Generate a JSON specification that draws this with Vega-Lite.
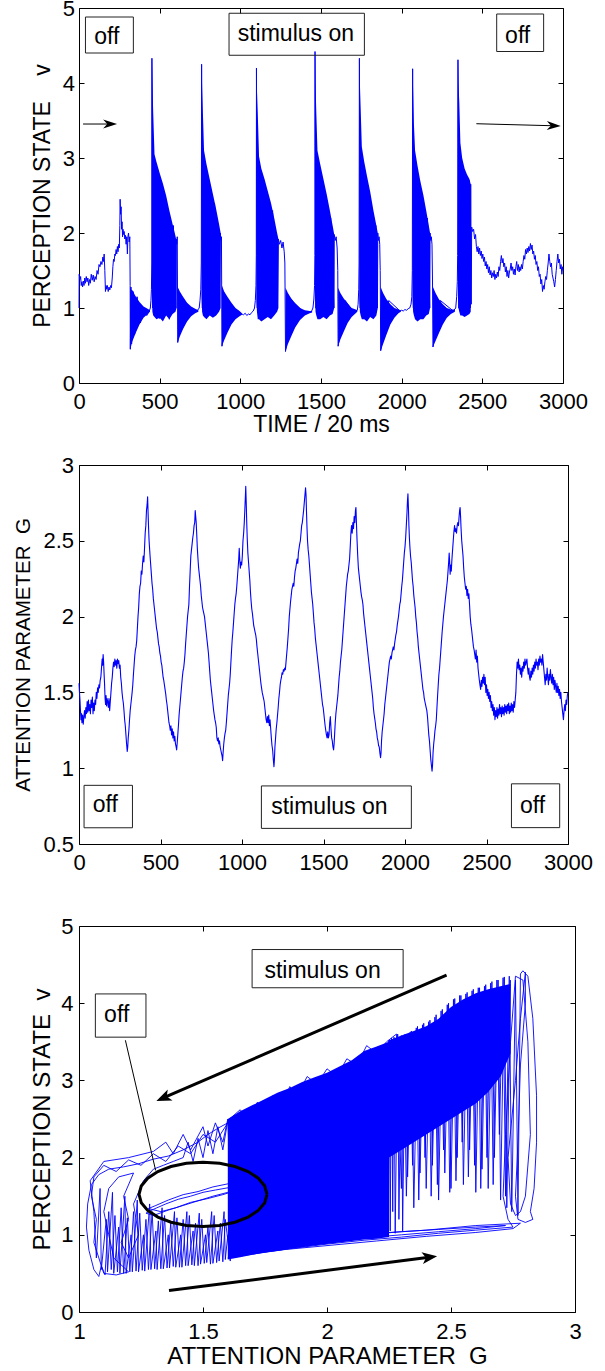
{
"$schema":"https://vega.github.io/schema/vega-lite/v6.json",
"background":"white",
"padding":{"left":13,"top":-4,"right":5,"bottom":0},
"config":{"font":"Liberation Sans","view":{"stroke":"black","strokeWidth":1},
"axis":{"grid":false,"domain":false,"labelFontSize":22,"labelColor":"black","labelFont":"Liberation Sans","titleFont":"Liberation Sans","titleFontWeight":"normal","titleColor":"black","tickColor":"black","tickSize":-5,"tickWidth":1,"labelOverlap":false,"labelFlush":false,"labelBound":false}},
"datasets":{
"l1":[{"t":0,"v":1.0},{"t":1,"v":1.45},{"t":6,"v":1.38},{"t":10,"v":1.42},{"t":14,"v":1.3},{"t":18,"v":1.35},{"t":22,"v":1.28},{"t":27,"v":1.36},{"t":31,"v":1.3},{"t":36,"v":1.4},{"t":40,"v":1.33},{"t":45,"v":1.42},{"t":50,"v":1.35},{"t":55,"v":1.4},{"t":60,"v":1.3},{"t":65,"v":1.38},{"t":70,"v":1.33},{"t":76,"v":1.45},{"t":82,"v":1.37},{"t":88,"v":1.44},{"t":94,"v":1.35},{"t":100,"v":1.42},{"t":106,"v":1.38},{"t":112,"v":1.5},{"t":118,"v":1.45},{"t":124,"v":1.58},{"t":130,"v":1.55},{"t":136,"v":1.62},{"t":142,"v":1.58},{"t":148,"v":1.68},{"t":152,"v":1.62},{"t":156,"v":1.72},{"t":160,"v":1.5},{"t":164,"v":1.22},{"t":168,"v":1.3},{"t":172,"v":1.25},{"t":176,"v":1.3},{"t":181,"v":1.22},{"t":186,"v":1.28},{"t":191,"v":1.24},{"t":196,"v":1.3},{"t":201,"v":1.27},{"t":206,"v":1.4},{"t":210,"v":1.55},{"t":214,"v":1.65},{"t":218,"v":1.62},{"t":222,"v":1.72},{"t":226,"v":1.7},{"t":230,"v":1.78},{"t":234,"v":1.72},{"t":238,"v":1.82},{"t":242,"v":1.75},{"t":246,"v":1.85},{"t":250,"v":1.8},{"t":253,"v":2.1},{"t":255,"v":2.45},{"t":258,"v":2.25},{"t":261,"v":2.35},{"t":264,"v":2.05},{"t":267,"v":2.15},{"t":270,"v":1.95},{"t":273,"v":2.05},{"t":276,"v":1.98},{"t":280,"v":2.02},{"t":284,"v":1.92},{"t":288,"v":1.97},{"t":292,"v":1.85},{"t":296,"v":1.95},{"t":300,"v":1.72},{"t":303,"v":1.95},{"t":307,"v":2.0},{"t":311,"v":1.88},{"t":315,"v":1.95},{"t":317,"v":1.3},{"t":318,"v":0.45},
{"t":322,"v":1.28},{"t":326,"v":0.52},{"t":335,"v":1.22},{"t":345,"v":0.65},{"t":360,"v":1.15},{"t":380,"v":0.8},{"t":400,"v":1.0},{"t":420,"v":0.9},{"t":436,"v":0.96},{"t":442,"v":1.0},{"t":446,"v":1.1},{"t":449,"v":1.25},{"t":451,"v":1.6},{"t":452,"v":4.33},
{"t":456,"v":1.0},{"t":475,"v":2.9},{"t":500,"v":0.86},{"t":530,"v":2.5},{"t":560,"v":0.85},{"t":585,"v":2.1},{"t":600,"v":1.0},{"t":603,"v":1.92},{"t":606,"v":1.85},{"t":609,"v":1.95},{"t":612,"v":0.54},
{"t":640,"v":1.1},{"t":700,"v":0.95},{"t":735,"v":0.97},{"t":745,"v":1.0},{"t":750,"v":1.1},{"t":755,"v":1.25},{"t":758,"v":1.6},{"t":760,"v":4.25},
{"t":764,"v":1.0},{"t":790,"v":1.0},{"t":840,"v":2.4},{"t":870,"v":1.0},{"t":876,"v":2.0},{"t":880,"v":1.9},{"t":883,"v":1.95},{"t":886,"v":0.49},
{"t":920,"v":1.1},{"t":980,"v":0.9},{"t":1010,"v":0.92},{"t":1020,"v":0.91},{"t":1030,"v":0.93},{"t":1040,"v":0.9},{"t":1050,"v":0.92},{"t":1060,"v":0.91},{"t":1070,"v":0.94},{"t":1080,"v":0.96},{"t":1088,"v":1.0},{"t":1093,"v":1.1},{"t":1097,"v":1.3},{"t":1099,"v":1.7},{"t":1100,"v":4.2},
{"t":1104,"v":1.0},{"t":1130,"v":1.0},{"t":1200,"v":2.3},{"t":1230,"v":1.0},{"t":1236,"v":1.92},{"t":1242,"v":1.85},{"t":1250,"v":1.9},{"t":1258,"v":1.8},{"t":1265,"v":1.88},{"t":1272,"v":1.75},{"t":1276,"v":1.6},{"t":1280,"v":0.42},
{"t":1320,"v":1.1},{"t":1400,"v":0.93},{"t":1440,"v":0.95},{"t":1450,"v":1.0},{"t":1456,"v":1.12},{"t":1460,"v":1.3},{"t":1462,"v":1.7},{"t":1463,"v":4.42},
{"t":1467,"v":1.0},{"t":1500,"v":1.0},{"t":1560,"v":2.2},{"t":1580,"v":1.0},{"t":1582,"v":1.98},{"t":1588,"v":1.9},{"t":1594,"v":1.95},{"t":1600,"v":1.8},{"t":1604,"v":1.5},{"t":1606,"v":0.49},
{"t":1650,"v":1.1},{"t":1700,"v":0.95},{"t":1725,"v":0.97},{"t":1730,"v":1.05},{"t":1734,"v":1.25},{"t":1736,"v":1.6},{"t":1738,"v":4.33},
{"t":1742,"v":1.0},{"t":1780,"v":1.0},{"t":1840,"v":2.1},{"t":1850,"v":1.0},{"t":1852,"v":2.0},{"t":1856,"v":1.9},{"t":1860,"v":1.95},{"t":1864,"v":1.85},{"t":1867,"v":1.5},{"t":1870,"v":0.43},
{"t":1920,"v":1.1},{"t":1990,"v":0.96},{"t":2000,"v":0.97},{"t":2010,"v":0.96},{"t":2020,"v":0.98},{"t":2030,"v":0.97},{"t":2040,"v":0.99},{"t":2050,"v":1.0},{"t":2058,"v":1.05},{"t":2063,"v":1.15},{"t":2066,"v":1.5},{"t":2068,"v":4.19},
{"t":2072,"v":1.0},{"t":2100,"v":1.0},{"t":2160,"v":2.2},{"t":2174,"v":1.0},{"t":2176,"v":2.0},{"t":2180,"v":1.9},{"t":2184,"v":1.95},{"t":2188,"v":1.85},{"t":2191,"v":1.4},{"t":2194,"v":0.48},
{"t":2240,"v":1.1},{"t":2320,"v":0.96},{"t":2335,"v":1.0},{"t":2341,"v":1.15},{"t":2345,"v":1.35},{"t":2347,"v":1.7},{"t":2349,"v":4.31},
{"t":2353,"v":1.0},{"t":2380,"v":1.0},{"t":2420,"v":2.7},{"t":2426,"v":1.0},{"t":2428,"v":2.65},{"t":2431,"v":1.05},{"t":2434,"v":2.08},
{"t":2440,"v":2.02},{"t":2446,"v":2.05},{"t":2452,"v":1.92},{"t":2458,"v":1.98},{"t":2463,"v":1.82},{"t":2468,"v":1.75},{"t":2473,"v":1.82},{"t":2478,"v":1.72},{"t":2483,"v":1.8},{"t":2488,"v":1.7},{"t":2493,"v":1.76},{"t":2498,"v":1.66},{"t":2503,"v":1.72},{"t":2508,"v":1.62},{"t":2513,"v":1.68},{"t":2518,"v":1.56},{"t":2523,"v":1.62},{"t":2528,"v":1.52},{"t":2533,"v":1.58},{"t":2538,"v":1.47},{"t":2543,"v":1.55},{"t":2548,"v":1.44},{"t":2553,"v":1.5},{"t":2558,"v":1.4},{"t":2563,"v":1.47},{"t":2568,"v":1.42},{"t":2573,"v":1.5},{"t":2578,"v":1.38},{"t":2583,"v":1.45},{"t":2588,"v":1.4},{"t":2593,"v":1.48},{"t":2598,"v":1.42},{"t":2603,"v":1.55},{"t":2608,"v":1.5},{"t":2613,"v":1.62},{"t":2618,"v":1.7},{"t":2623,"v":1.6},{"t":2628,"v":1.66},{"t":2633,"v":1.55},{"t":2638,"v":1.6},{"t":2643,"v":1.48},{"t":2648,"v":1.55},{"t":2653,"v":1.42},{"t":2658,"v":1.5},{"t":2663,"v":1.4},{"t":2668,"v":1.48},{"t":2673,"v":1.52},{"t":2678,"v":1.6},{"t":2683,"v":1.5},{"t":2688,"v":1.55},{"t":2693,"v":1.45},{"t":2698,"v":1.52},{"t":2703,"v":1.44},{"t":2708,"v":1.55},{"t":2713,"v":1.62},{"t":2718,"v":1.5},{"t":2723,"v":1.58},{"t":2728,"v":1.48},{"t":2733,"v":1.55},{"t":2738,"v":1.5},{"t":2743,"v":1.58},{"t":2748,"v":1.52},{"t":2753,"v":1.62},{"t":2758,"v":1.7},{"t":2763,"v":1.65},{"t":2768,"v":1.78},{"t":2773,"v":1.72},{"t":2778,"v":1.8},{"t":2783,"v":1.74},{"t":2788,"v":1.82},{"t":2793,"v":1.76},{"t":2798,"v":1.86},{"t":2803,"v":1.78},{"t":2808,"v":1.84},{"t":2813,"v":1.72},{"t":2818,"v":1.76},{"t":2823,"v":1.65},{"t":2828,"v":1.7},{"t":2833,"v":1.58},{"t":2838,"v":1.62},{"t":2843,"v":1.5},{"t":2848,"v":1.55},{"t":2853,"v":1.42},{"t":2858,"v":1.45},{"t":2863,"v":1.32},{"t":2868,"v":1.38},{"t":2873,"v":1.22},{"t":2878,"v":1.3},{"t":2883,"v":1.25},{"t":2888,"v":1.35},{"t":2893,"v":1.42},{"t":2898,"v":1.38},{"t":2903,"v":1.5},{"t":2908,"v":1.6},{"t":2913,"v":1.72},{"t":2918,"v":1.62},{"t":2923,"v":1.55},{"t":2928,"v":1.6},{"t":2933,"v":1.45},{"t":2938,"v":1.4},{"t":2943,"v":1.35},{"t":2948,"v":1.28},{"t":2953,"v":1.38},{"t":2958,"v":1.5},{"t":2963,"v":1.62},{"t":2968,"v":1.72},{"t":2973,"v":1.6},{"t":2978,"v":1.65},{"t":2983,"v":1.52},{"t":2988,"v":1.58},{"t":2993,"v":1.45},{"t":2997,"v":1.55},{"t":3000,"v":1.5}],
"b1":[{"seg":"o1","t":318,"hi":1.25,"lo":0.45},{"seg":"o1","t":330,"hi":1.24,"lo":0.55},{"seg":"o1","t":350,"hi":1.16,"lo":0.66},{"seg":"o1","t":375,"hi":1.08,"lo":0.78},{"seg":"o1","t":400,"hi":1.02,"lo":0.87},{"seg":"o1","t":425,"hi":0.99,"lo":0.92},{"seg":"o1","t":440,"hi":0.97,"lo":0.95},
{"seg":"b1","t":452,"hi":4.33,"lo":1.15},{"seg":"b1","t":455,"hi":4.05,"lo":0.95},{"seg":"b1","t":460,"hi":3.6,"lo":0.9},{"seg":"b1","t":468,"hi":3.05,"lo":0.88},{"seg":"b1","t":480,"hi":2.95,"lo":0.85},{"seg":"b1","t":500,"hi":2.8,"lo":0.87},{"seg":"b1","t":520,"hi":2.66,"lo":0.82},{"seg":"b1","t":540,"hi":2.5,"lo":0.9},{"seg":"b1","t":560,"hi":2.3,"lo":0.85},{"seg":"b1","t":580,"hi":2.12,"lo":0.92},{"seg":"b1","t":598,"hi":1.96,"lo":0.95},{"seg":"b1","t":605,"hi":1.88,"lo":1.0},
{"seg":"o2","t":612,"hi":1.28,"lo":0.54},{"seg":"o2","t":625,"hi":1.22,"lo":0.62},{"seg":"o2","t":645,"hi":1.15,"lo":0.72},{"seg":"o2","t":670,"hi":1.07,"lo":0.82},{"seg":"o2","t":695,"hi":1.02,"lo":0.89},{"seg":"o2","t":720,"hi":0.99,"lo":0.93},{"seg":"o2","t":740,"hi":0.97,"lo":0.95},
{"seg":"b2","t":760,"hi":4.25,"lo":1.15},{"seg":"b2","t":763,"hi":3.95,"lo":0.95},{"seg":"b2","t":768,"hi":3.6,"lo":0.9},{"seg":"b2","t":775,"hi":3.1,"lo":0.88},{"seg":"b2","t":790,"hi":2.92,"lo":0.85},{"seg":"b2","t":810,"hi":2.72,"lo":0.9},{"seg":"b2","t":830,"hi":2.52,"lo":0.87},{"seg":"b2","t":850,"hi":2.32,"lo":0.9},{"seg":"b2","t":868,"hi":2.12,"lo":0.95},{"seg":"b2","t":878,"hi":2.0,"lo":1.0},
{"seg":"o3","t":886,"hi":1.3,"lo":0.49},{"seg":"o3","t":900,"hi":1.22,"lo":0.57},{"seg":"o3","t":920,"hi":1.15,"lo":0.67},{"seg":"o3","t":945,"hi":1.07,"lo":0.78},{"seg":"o3","t":970,"hi":1.0,"lo":0.85},{"seg":"o3","t":995,"hi":0.96,"lo":0.89},{"seg":"o3","t":1010,"hi":0.93,"lo":0.91},
{"seg":"b3","t":1100,"hi":4.2,"lo":1.1},{"seg":"b3","t":1103,"hi":3.9,"lo":0.95},{"seg":"b3","t":1108,"hi":3.6,"lo":0.85},{"seg":"b3","t":1116,"hi":3.02,"lo":0.85},{"seg":"b3","t":1130,"hi":2.86,"lo":0.82},{"seg":"b3","t":1150,"hi":2.72,"lo":0.85},{"seg":"b3","t":1170,"hi":2.56,"lo":0.88},{"seg":"b3","t":1190,"hi":2.4,"lo":0.85},{"seg":"b3","t":1210,"hi":2.2,"lo":0.9},{"seg":"b3","t":1228,"hi":2.0,"lo":0.95},{"seg":"b3","t":1236,"hi":1.92,"lo":1.0},
{"seg":"o4","t":1280,"hi":1.27,"lo":0.42},{"seg":"o4","t":1295,"hi":1.2,"lo":0.52},{"seg":"o4","t":1315,"hi":1.13,"lo":0.62},{"seg":"o4","t":1340,"hi":1.06,"lo":0.74},{"seg":"o4","t":1370,"hi":1.0,"lo":0.84},{"seg":"o4","t":1400,"hi":0.97,"lo":0.9},{"seg":"o4","t":1430,"hi":0.96,"lo":0.93},{"seg":"o4","t":1445,"hi":0.96,"lo":0.94},
{"seg":"b4","t":1463,"hi":4.42,"lo":1.15},{"seg":"b4","t":1466,"hi":4.0,"lo":0.95},{"seg":"b4","t":1471,"hi":3.6,"lo":0.9},{"seg":"b4","t":1478,"hi":3.1,"lo":0.85},{"seg":"b4","t":1495,"hi":2.92,"lo":0.85},{"seg":"b4","t":1515,"hi":2.72,"lo":0.88},{"seg":"b4","t":1535,"hi":2.52,"lo":0.85},{"seg":"b4","t":1555,"hi":2.3,"lo":0.9},{"seg":"b4","t":1572,"hi":2.1,"lo":0.92},{"seg":"b4","t":1582,"hi":1.98,"lo":1.0},
{"seg":"o5","t":1606,"hi":1.27,"lo":0.49},{"seg":"o5","t":1620,"hi":1.2,"lo":0.58},{"seg":"o5","t":1640,"hi":1.13,"lo":0.68},{"seg":"o5","t":1665,"hi":1.06,"lo":0.8},{"seg":"o5","t":1690,"hi":1.0,"lo":0.88},{"seg":"o5","t":1715,"hi":0.98,"lo":0.93},{"seg":"o5","t":1725,"hi":0.97,"lo":0.95},
{"seg":"b5","t":1738,"hi":4.33,"lo":1.1},{"seg":"b5","t":1741,"hi":4.0,"lo":0.95},{"seg":"b5","t":1746,"hi":3.65,"lo":0.9},{"seg":"b5","t":1753,"hi":3.15,"lo":0.85},{"seg":"b5","t":1768,"hi":2.95,"lo":0.85},{"seg":"b5","t":1785,"hi":2.76,"lo":0.82},{"seg":"b5","t":1805,"hi":2.55,"lo":0.88},{"seg":"b5","t":1825,"hi":2.3,"lo":0.85},{"seg":"b5","t":1843,"hi":2.1,"lo":0.9},{"seg":"b5","t":1852,"hi":2.0,"lo":1.0},
{"seg":"o6","t":1870,"hi":1.28,"lo":0.43},{"seg":"o6","t":1885,"hi":1.2,"lo":0.52},{"seg":"o6","t":1905,"hi":1.12,"lo":0.64},{"seg":"o6","t":1930,"hi":1.05,"lo":0.78},{"seg":"o6","t":1955,"hi":1.0,"lo":0.87},{"seg":"o6","t":1980,"hi":0.98,"lo":0.93},{"seg":"o6","t":1995,"hi":0.97,"lo":0.95},
{"seg":"b6","t":2068,"hi":4.19,"lo":1.1},{"seg":"b6","t":2071,"hi":3.9,"lo":0.95},{"seg":"b6","t":2076,"hi":3.45,"lo":0.9},{"seg":"b6","t":2083,"hi":3.1,"lo":0.85},{"seg":"b6","t":2098,"hi":2.9,"lo":0.82},{"seg":"b6","t":2115,"hi":2.7,"lo":0.85},{"seg":"b6","t":2135,"hi":2.5,"lo":0.85},{"seg":"b6","t":2152,"hi":2.3,"lo":0.9},{"seg":"b6","t":2168,"hi":2.1,"lo":0.92},{"seg":"b6","t":2176,"hi":2.0,"lo":1.0},
{"seg":"o7","t":2194,"hi":1.28,"lo":0.48},{"seg":"o7","t":2210,"hi":1.2,"lo":0.56},{"seg":"o7","t":2230,"hi":1.12,"lo":0.66},{"seg":"o7","t":2255,"hi":1.05,"lo":0.78},{"seg":"o7","t":2280,"hi":1.0,"lo":0.87},{"seg":"o7","t":2305,"hi":0.98,"lo":0.92},{"seg":"o7","t":2330,"hi":0.98,"lo":0.95},
{"seg":"b7","t":2349,"hi":4.31,"lo":1.15},{"seg":"b7","t":2352,"hi":4.0,"lo":1.0},{"seg":"b7","t":2357,"hi":3.75,"lo":0.95},{"seg":"b7","t":2364,"hi":3.2,"lo":0.9},{"seg":"b7","t":2375,"hi":3.0,"lo":0.9},{"seg":"b7","t":2390,"hi":2.86,"lo":0.88},{"seg":"b7","t":2405,"hi":2.78,"lo":0.9},{"seg":"b7","t":2420,"hi":2.72,"lo":0.92},{"seg":"b7","t":2428,"hi":2.65,"lo":0.95}],
"g2":[{"t":0,"g":1.56},{"t":3,"g":1.5},{"t":6,"g":1.45},{"t":9,"g":1.38},{"t":12,"g":1.32},{"t":15,"g":1.36},{"t":18,"g":1.3},{"t":22,"g":1.35},{"t":26,"g":1.29},{"t":30,"g":1.34},{"t":34,"g":1.38},{"t":38,"g":1.33},{"t":42,"g":1.4},{"t":46,"g":1.36},{"t":50,"g":1.44},{"t":54,"g":1.37},{"t":58,"g":1.45},{"t":62,"g":1.38},{"t":66,"g":1.42},{"t":70,"g":1.36},{"t":74,"g":1.45},{"t":78,"g":1.4},{"t":82,"g":1.47},{"t":86,"g":1.36},{"t":90,"g":1.43},{"t":94,"g":1.38},{"t":98,"g":1.45},{"t":102,"g":1.42},{"t":106,"g":1.5},{"t":110,"g":1.46},{"t":114,"g":1.53},{"t":118,"g":1.5},{"t":122,"g":1.55},{"t":126,"g":1.53},{"t":130,"g":1.58},{"t":134,"g":1.6},{"t":138,"g":1.66},{"t":142,"g":1.72},{"t":145,"g":1.68},{"t":148,"g":1.75},{"t":151,"g":1.7},{"t":154,"g":1.62},{"t":157,"g":1.55},{"t":160,"g":1.46},{"t":163,"g":1.42},{"t":166,"g":1.48},{"t":169,"g":1.41},{"t":172,"g":1.46},{"t":176,"g":1.44},{"t":180,"g":1.4},{"t":184,"g":1.46},{"t":188,"g":1.38},{"t":192,"g":1.44},{"t":196,"g":1.5},{"t":200,"g":1.56},{"t":204,"g":1.6},{"t":208,"g":1.66},{"t":212,"g":1.7},{"t":216,"g":1.67},{"t":220,"g":1.72},{"t":224,"g":1.68},{"t":228,"g":1.71},{"t":232,"g":1.66},{"t":236,"g":1.72},{"t":240,"g":1.69},{"t":244,"g":1.71},{"t":248,"g":1.66},{"t":252,"g":1.68},{"t":256,"g":1.6},{"t":260,"g":1.56},{"t":264,"g":1.5},{"t":268,"g":1.46},{"t":272,"g":1.43},{"t":276,"g":1.38},{"t":280,"g":1.32},{"t":284,"g":1.28},{"t":288,"g":1.22},{"t":292,"g":1.16},{"t":296,"g":1.11},{"t":299,"g":1.14},
{"t":302,"g":1.2},{"t":306,"g":1.25},{"t":310,"g":1.32},{"t":314,"g":1.38},{"t":318,"g":1.42},{"t":322,"g":1.46},{"t":326,"g":1.5},{"t":330,"g":1.55},{"t":334,"g":1.62},{"t":338,"g":1.68},{"t":342,"g":1.74},{"t":346,"g":1.78},{"t":350,"g":1.8},{"t":354,"g":1.84},{"t":358,"g":1.92},{"t":362,"g":2.0},{"t":366,"g":2.06},{"t":370,"g":2.15},{"t":374,"g":2.2},{"t":378,"g":2.22},{"t":382,"g":2.3},{"t":386,"g":2.28},{"t":390,"g":2.35},{"t":394,"g":2.4},{"t":398,"g":2.36},{"t":402,"g":2.45},{"t":406,"g":2.55},{"t":410,"g":2.6},{"t":414,"g":2.7},{"t":418,"g":2.74},{"t":421,"g":2.79},{"t":424,"g":2.68},{"t":427,"g":2.58},{"t":430,"g":2.5},{"t":433,"g":2.45},{"t":436,"g":2.4},{"t":440,"g":2.34},{"t":444,"g":2.28},{"t":448,"g":2.22},{"t":452,"g":2.18},{"t":456,"g":2.12},{"t":460,"g":2.08},{"t":464,"g":2.04},{"t":468,"g":2.0},{"t":472,"g":1.96},{"t":476,"g":1.92},{"t":480,"g":1.9},{"t":484,"g":1.86},{"t":488,"g":1.82},{"t":492,"g":1.8},{"t":496,"g":1.76},{"t":500,"g":1.74},{"t":504,"g":1.7},{"t":508,"g":1.68},{"t":512,"g":1.64},{"t":516,"g":1.6},{"t":520,"g":1.58},{"t":524,"g":1.55},{"t":528,"g":1.52},{"t":532,"g":1.49},{"t":536,"g":1.45},{"t":540,"g":1.42},{"t":544,"g":1.38},{"t":548,"g":1.34},{"t":552,"g":1.3},{"t":556,"g":1.28},{"t":560,"g":1.25},{"t":564,"g":1.28},{"t":568,"g":1.22},{"t":572,"g":1.26},{"t":576,"g":1.2},{"t":580,"g":1.24},{"t":584,"g":1.18},{"t":588,"g":1.21},{"t":592,"g":1.16},{"t":596,"g":1.14},{"t":599,"g":1.12},
{"t":602,"g":1.16},{"t":606,"g":1.22},{"t":610,"g":1.28},{"t":614,"g":1.35},{"t":618,"g":1.4},{"t":622,"g":1.45},{"t":626,"g":1.5},{"t":630,"g":1.55},{"t":634,"g":1.6},{"t":638,"g":1.64},{"t":642,"g":1.66},{"t":646,"g":1.7},{"t":650,"g":1.75},{"t":654,"g":1.82},{"t":658,"g":1.88},{"t":662,"g":1.94},{"t":666,"g":2.0},{"t":670,"g":2.04},{"t":674,"g":2.08},{"t":678,"g":2.2},{"t":682,"g":2.3},{"t":686,"g":2.4},{"t":690,"g":2.44},{"t":694,"g":2.48},{"t":698,"g":2.52},{"t":702,"g":2.55},{"t":706,"g":2.6},{"t":710,"g":2.62},{"t":713,"g":2.7},{"t":716,"g":2.66},{"t":719,"g":2.62},{"t":722,"g":2.55},{"t":726,"g":2.45},{"t":730,"g":2.38},{"t":734,"g":2.32},{"t":738,"g":2.28},{"t":742,"g":2.24},{"t":746,"g":2.2},{"t":750,"g":2.14},{"t":754,"g":2.1},{"t":758,"g":2.06},{"t":762,"g":2.04},{"t":766,"g":2.02},{"t":770,"g":2.0},{"t":774,"g":1.96},{"t":778,"g":1.92},{"t":782,"g":1.88},{"t":786,"g":1.84},{"t":790,"g":1.8},{"t":794,"g":1.76},{"t":798,"g":1.7},{"t":802,"g":1.64},{"t":806,"g":1.58},{"t":810,"g":1.54},{"t":814,"g":1.5},{"t":818,"g":1.46},{"t":822,"g":1.42},{"t":826,"g":1.38},{"t":830,"g":1.35},{"t":834,"g":1.32},{"t":838,"g":1.3},{"t":842,"g":1.27},{"t":846,"g":1.2},{"t":850,"g":1.18},{"t":854,"g":1.2},{"t":858,"g":1.16},{"t":862,"g":1.18},{"t":866,"g":1.14},{"t":870,"g":1.12},{"t":874,"g":1.1},{"t":878,"g":1.08},{"t":881,"g":1.05},
{"t":884,"g":1.1},{"t":888,"g":1.16},{"t":892,"g":1.2},{"t":896,"g":1.23},{"t":900,"g":1.25},{"t":904,"g":1.3},{"t":908,"g":1.36},{"t":912,"g":1.42},{"t":916,"g":1.48},{"t":920,"g":1.52},{"t":924,"g":1.56},{"t":928,"g":1.62},{"t":932,"g":1.7},{"t":936,"g":1.78},{"t":940,"g":1.85},{"t":944,"g":1.9},{"t":948,"g":1.96},{"t":952,"g":2.02},{"t":956,"g":2.08},{"t":960,"g":2.12},{"t":964,"g":2.15},{"t":968,"g":2.2},{"t":972,"g":2.26},{"t":976,"g":2.32},{"t":980,"g":2.38},{"t":983,"g":2.45},{"t":986,"g":2.38},{"t":990,"g":2.32},{"t":994,"g":2.36},{"t":998,"g":2.34},{"t":1002,"g":2.4},{"t":1006,"g":2.5},{"t":1010,"g":2.55},{"t":1014,"g":2.62},{"t":1018,"g":2.72},{"t":1021,"g":2.8},{"t":1023,"g":2.86},{"t":1026,"g":2.75},{"t":1029,"g":2.62},{"t":1032,"g":2.52},{"t":1036,"g":2.42},{"t":1040,"g":2.36},{"t":1044,"g":2.3},{"t":1048,"g":2.24},{"t":1052,"g":2.16},{"t":1056,"g":2.1},{"t":1060,"g":2.05},{"t":1064,"g":2.02},{"t":1068,"g":1.98},{"t":1072,"g":1.94},{"t":1076,"g":1.92},{"t":1080,"g":1.9},{"t":1084,"g":1.88},{"t":1088,"g":1.85},{"t":1092,"g":1.8},{"t":1096,"g":1.76},{"t":1100,"g":1.72},{"t":1104,"g":1.68},{"t":1108,"g":1.64},{"t":1112,"g":1.6},{"t":1116,"g":1.56},{"t":1120,"g":1.53},{"t":1124,"g":1.5},{"t":1128,"g":1.48},{"t":1132,"g":1.46},{"t":1136,"g":1.44},{"t":1140,"g":1.4},{"t":1144,"g":1.36},{"t":1148,"g":1.32},{"t":1152,"g":1.3},{"t":1156,"g":1.34},{"t":1160,"g":1.3},{"t":1164,"g":1.35},{"t":1168,"g":1.28},{"t":1172,"g":1.32},{"t":1176,"g":1.26},{"t":1180,"g":1.2},{"t":1184,"g":1.15},{"t":1188,"g":1.12},{"t":1192,"g":1.06},{"t":1196,"g":1.01},
{"t":1199,"g":1.06},{"t":1202,"g":1.14},{"t":1206,"g":1.2},{"t":1210,"g":1.26},{"t":1214,"g":1.3},{"t":1218,"g":1.35},{"t":1222,"g":1.4},{"t":1226,"g":1.46},{"t":1230,"g":1.5},{"t":1234,"g":1.55},{"t":1238,"g":1.58},{"t":1242,"g":1.6},{"t":1246,"g":1.63},{"t":1250,"g":1.62},{"t":1254,"g":1.65},{"t":1258,"g":1.64},{"t":1262,"g":1.66},{"t":1266,"g":1.65},{"t":1270,"g":1.7},{"t":1274,"g":1.75},{"t":1278,"g":1.8},{"t":1282,"g":1.86},{"t":1286,"g":1.92},{"t":1290,"g":2.0},{"t":1294,"g":2.05},{"t":1298,"g":2.1},{"t":1302,"g":2.14},{"t":1306,"g":2.18},{"t":1310,"g":2.2},{"t":1314,"g":2.22},{"t":1318,"g":2.2},{"t":1322,"g":2.26},{"t":1326,"g":2.3},{"t":1330,"g":2.32},{"t":1334,"g":2.35},{"t":1338,"g":2.38},{"t":1342,"g":2.35},{"t":1346,"g":2.42},{"t":1350,"g":2.45},{"t":1354,"g":2.48},{"t":1358,"g":2.5},{"t":1362,"g":2.55},{"t":1366,"g":2.6},{"t":1370,"g":2.62},{"t":1374,"g":2.66},{"t":1378,"g":2.7},{"t":1382,"g":2.75},{"t":1386,"g":2.8},{"t":1390,"g":2.85},{"t":1393,"g":2.8},{"t":1396,"g":2.68},{"t":1399,"g":2.58},{"t":1402,"g":2.5},{"t":1406,"g":2.44},{"t":1410,"g":2.4},{"t":1414,"g":2.34},{"t":1418,"g":2.28},{"t":1422,"g":2.22},{"t":1426,"g":2.16},{"t":1430,"g":2.12},{"t":1434,"g":2.08},{"t":1438,"g":2.02},{"t":1442,"g":1.96},{"t":1446,"g":1.92},{"t":1450,"g":1.86},{"t":1454,"g":1.82},{"t":1458,"g":1.78},{"t":1462,"g":1.74},{"t":1466,"g":1.7},{"t":1470,"g":1.66},{"t":1474,"g":1.62},{"t":1478,"g":1.58},{"t":1482,"g":1.54},{"t":1486,"g":1.5},{"t":1490,"g":1.46},{"t":1494,"g":1.42},{"t":1498,"g":1.4},{"t":1502,"g":1.36},{"t":1506,"g":1.32},{"t":1510,"g":1.28},{"t":1514,"g":1.25},{"t":1518,"g":1.22},{"t":1522,"g":1.2},{"t":1526,"g":1.24},{"t":1530,"g":1.2},{"t":1534,"g":1.22},{"t":1538,"g":1.3},{"t":1542,"g":1.34},{"t":1546,"g":1.26},{"t":1550,"g":1.2},{"t":1554,"g":1.18},{"t":1558,"g":1.14},{"t":1562,"g":1.12},
{"t":1565,"g":1.16},{"t":1568,"g":1.22},{"t":1572,"g":1.3},{"t":1576,"g":1.36},{"t":1580,"g":1.4},{"t":1584,"g":1.44},{"t":1588,"g":1.48},{"t":1592,"g":1.54},{"t":1596,"g":1.6},{"t":1600,"g":1.64},{"t":1604,"g":1.7},{"t":1608,"g":1.74},{"t":1612,"g":1.78},{"t":1616,"g":1.84},{"t":1620,"g":1.9},{"t":1624,"g":1.96},{"t":1628,"g":2.02},{"t":1632,"g":2.08},{"t":1636,"g":2.14},{"t":1640,"g":2.2},{"t":1644,"g":2.24},{"t":1648,"g":2.28},{"t":1652,"g":2.3},{"t":1656,"g":2.34},{"t":1660,"g":2.38},{"t":1664,"g":2.46},{"t":1668,"g":2.55},{"t":1672,"g":2.6},{"t":1676,"g":2.55},{"t":1680,"g":2.62},{"t":1684,"g":2.58},{"t":1688,"g":2.66},{"t":1692,"g":2.62},{"t":1696,"g":2.7},{"t":1699,"g":2.72},{"t":1702,"g":2.62},{"t":1706,"g":2.5},{"t":1710,"g":2.4},{"t":1714,"g":2.32},{"t":1718,"g":2.28},{"t":1722,"g":2.24},{"t":1726,"g":2.2},{"t":1730,"g":2.16},{"t":1734,"g":2.13},{"t":1738,"g":2.11},{"t":1742,"g":2.08},{"t":1746,"g":2.02},{"t":1750,"g":1.98},{"t":1754,"g":1.94},{"t":1758,"g":1.9},{"t":1762,"g":1.86},{"t":1766,"g":1.82},{"t":1770,"g":1.78},{"t":1774,"g":1.74},{"t":1778,"g":1.7},{"t":1782,"g":1.66},{"t":1786,"g":1.62},{"t":1790,"g":1.58},{"t":1794,"g":1.54},{"t":1798,"g":1.5},{"t":1802,"g":1.46},{"t":1806,"g":1.4},{"t":1810,"g":1.36},{"t":1814,"g":1.33},{"t":1818,"g":1.3},{"t":1822,"g":1.26},{"t":1826,"g":1.24},{"t":1830,"g":1.2},{"t":1834,"g":1.18},{"t":1838,"g":1.15},{"t":1842,"g":1.14},{"t":1846,"g":1.1},{"t":1850,"g":1.07},
{"t":1853,"g":1.1},{"t":1856,"g":1.18},{"t":1860,"g":1.24},{"t":1864,"g":1.28},{"t":1868,"g":1.32},{"t":1872,"g":1.36},{"t":1876,"g":1.42},{"t":1880,"g":1.46},{"t":1884,"g":1.5},{"t":1888,"g":1.54},{"t":1892,"g":1.58},{"t":1896,"g":1.62},{"t":1900,"g":1.66},{"t":1904,"g":1.7},{"t":1908,"g":1.72},{"t":1912,"g":1.74},{"t":1916,"g":1.72},{"t":1920,"g":1.76},{"t":1924,"g":1.78},{"t":1928,"g":1.8},{"t":1932,"g":1.78},{"t":1936,"g":1.82},{"t":1940,"g":1.85},{"t":1944,"g":1.88},{"t":1948,"g":1.9},{"t":1952,"g":1.94},{"t":1956,"g":1.97},{"t":1960,"g":2.0},{"t":1964,"g":2.04},{"t":1968,"g":2.08},{"t":1972,"g":2.1},{"t":1976,"g":2.15},{"t":1980,"g":2.2},{"t":1984,"g":2.24},{"t":1988,"g":2.3},{"t":1992,"g":2.36},{"t":1996,"g":2.42},{"t":2000,"g":2.46},{"t":2004,"g":2.52},{"t":2008,"g":2.6},{"t":2012,"g":2.68},{"t":2015,"g":2.76},{"t":2018,"g":2.81},{"t":2021,"g":2.72},{"t":2024,"g":2.6},{"t":2027,"g":2.52},{"t":2030,"g":2.46},{"t":2034,"g":2.4},{"t":2038,"g":2.36},{"t":2042,"g":2.3},{"t":2046,"g":2.24},{"t":2050,"g":2.2},{"t":2054,"g":2.14},{"t":2058,"g":2.1},{"t":2062,"g":2.06},{"t":2066,"g":2.0},{"t":2070,"g":1.96},{"t":2074,"g":1.9},{"t":2078,"g":1.86},{"t":2082,"g":1.8},{"t":2086,"g":1.76},{"t":2090,"g":1.72},{"t":2094,"g":1.68},{"t":2098,"g":1.64},{"t":2102,"g":1.6},{"t":2106,"g":1.56},{"t":2110,"g":1.52},{"t":2114,"g":1.5},{"t":2118,"g":1.46},{"t":2122,"g":1.44},{"t":2126,"g":1.42},{"t":2130,"g":1.4},{"t":2134,"g":1.38},{"t":2138,"g":1.34},{"t":2142,"g":1.28},{"t":2146,"g":1.22},{"t":2150,"g":1.18},{"t":2154,"g":1.12},{"t":2158,"g":1.06},{"t":2162,"g":1.02},{"t":2166,"g":0.98},
{"t":2169,"g":1.02},{"t":2172,"g":1.1},{"t":2176,"g":1.16},{"t":2180,"g":1.2},{"t":2184,"g":1.25},{"t":2188,"g":1.28},{"t":2192,"g":1.32},{"t":2196,"g":1.4},{"t":2200,"g":1.48},{"t":2204,"g":1.55},{"t":2208,"g":1.62},{"t":2212,"g":1.66},{"t":2216,"g":1.72},{"t":2220,"g":1.78},{"t":2224,"g":1.84},{"t":2228,"g":1.9},{"t":2232,"g":1.95},{"t":2236,"g":2.0},{"t":2240,"g":2.04},{"t":2244,"g":2.08},{"t":2248,"g":2.12},{"t":2252,"g":2.16},{"t":2256,"g":2.2},{"t":2260,"g":2.24},{"t":2264,"g":2.3},{"t":2268,"g":2.36},{"t":2271,"g":2.42},{"t":2274,"g":2.36},{"t":2277,"g":2.28},{"t":2280,"g":2.34},{"t":2284,"g":2.3},{"t":2288,"g":2.38},{"t":2292,"g":2.44},{"t":2296,"g":2.5},{"t":2300,"g":2.56},{"t":2304,"g":2.6},{"t":2308,"g":2.56},{"t":2312,"g":2.58},{"t":2316,"g":2.55},{"t":2320,"g":2.6},{"t":2324,"g":2.62},{"t":2328,"g":2.6},{"t":2332,"g":2.66},{"t":2335,"g":2.7},{"t":2338,"g":2.72},{"t":2341,"g":2.66},{"t":2344,"g":2.58},{"t":2348,"g":2.5},{"t":2352,"g":2.45},{"t":2356,"g":2.4},{"t":2360,"g":2.32},{"t":2364,"g":2.26},{"t":2368,"g":2.22},{"t":2372,"g":2.18},{"t":2376,"g":2.2},{"t":2380,"g":2.14},{"t":2384,"g":2.18},{"t":2388,"g":2.12},{"t":2392,"g":2.15},{"t":2396,"g":2.08},{"t":2400,"g":2.0},{"t":2404,"g":1.95},{"t":2408,"g":1.92},{"t":2412,"g":1.88},{"t":2416,"g":1.84},{"t":2420,"g":1.8},{"t":2424,"g":1.78},{"t":2428,"g":1.75},{"t":2432,"g":1.72},{"t":2436,"g":1.78},{"t":2440,"g":1.7},{"t":2444,"g":1.74},{"t":2448,"g":1.66},{"t":2452,"g":1.62},{"t":2456,"g":1.58},{"t":2460,"g":1.55},{"t":2464,"g":1.52},{"t":2468,"g":1.58},{"t":2472,"g":1.54},{"t":2476,"g":1.6},{"t":2480,"g":1.56},{"t":2484,"g":1.62},{"t":2488,"g":1.55},{"t":2492,"g":1.6},{"t":2496,"g":1.5},{"t":2500,"g":1.55},{"t":2504,"g":1.48},{"t":2508,"g":1.52},{"t":2512,"g":1.46},{"t":2516,"g":1.5},{"t":2520,"g":1.44},{"t":2524,"g":1.48},{"t":2528,"g":1.4},{"t":2532,"g":1.44},{"t":2536,"g":1.38},{"t":2540,"g":1.42},{"t":2544,"g":1.35},{"t":2548,"g":1.4},{"t":2552,"g":1.32},{"t":2556,"g":1.38},{"t":2560,"g":1.34},{"t":2564,"g":1.4},{"t":2568,"g":1.33},{"t":2572,"g":1.39},{"t":2576,"g":1.35},{"t":2580,"g":1.42},{"t":2584,"g":1.36},{"t":2588,"g":1.4},{"t":2592,"g":1.34},{"t":2596,"g":1.41},{"t":2600,"g":1.36},{"t":2604,"g":1.4},{"t":2608,"g":1.35},{"t":2612,"g":1.42},{"t":2616,"g":1.37},{"t":2620,"g":1.41},{"t":2624,"g":1.36},{"t":2628,"g":1.42},{"t":2632,"g":1.38},{"t":2636,"g":1.43},{"t":2640,"g":1.36},{"t":2644,"g":1.41},{"t":2648,"g":1.37},{"t":2652,"g":1.43},{"t":2656,"g":1.38},{"t":2660,"g":1.42},{"t":2664,"g":1.37},{"t":2668,"g":1.44},{"t":2672,"g":1.4},{"t":2676,"g":1.45},{"t":2680,"g":1.5},{"t":2684,"g":1.62},{"t":2688,"g":1.7},{"t":2692,"g":1.66},{"t":2696,"g":1.72},{"t":2700,"g":1.65},{"t":2704,"g":1.68},{"t":2708,"g":1.62},{"t":2712,"g":1.66},{"t":2716,"g":1.6},{"t":2720,"g":1.67},{"t":2724,"g":1.64},{"t":2728,"g":1.7},{"t":2732,"g":1.66},{"t":2736,"g":1.72},{"t":2740,"g":1.68},{"t":2744,"g":1.7},{"t":2748,"g":1.72},{"t":2752,"g":1.66},{"t":2756,"g":1.62},{"t":2760,"g":1.66},{"t":2764,"g":1.6},{"t":2768,"g":1.58},{"t":2772,"g":1.64},{"t":2776,"g":1.6},{"t":2780,"g":1.66},{"t":2784,"g":1.62},{"t":2788,"g":1.68},{"t":2792,"g":1.64},{"t":2796,"g":1.7},{"t":2800,"g":1.66},{"t":2804,"g":1.72},{"t":2808,"g":1.68},{"t":2812,"g":1.7},{"t":2816,"g":1.65},{"t":2820,"g":1.72},{"t":2824,"g":1.68},{"t":2828,"g":1.74},{"t":2832,"g":1.7},{"t":2836,"g":1.72},{"t":2840,"g":1.68},{"t":2844,"g":1.75},{"t":2848,"g":1.7},{"t":2852,"g":1.65},{"t":2856,"g":1.6},{"t":2860,"g":1.55},{"t":2864,"g":1.62},{"t":2868,"g":1.58},{"t":2872,"g":1.66},{"t":2876,"g":1.6},{"t":2880,"g":1.55},{"t":2884,"g":1.62},{"t":2888,"g":1.58},{"t":2892,"g":1.65},{"t":2896,"g":1.6},{"t":2900,"g":1.56},{"t":2904,"g":1.62},{"t":2908,"g":1.55},{"t":2912,"g":1.6},{"t":2916,"g":1.52},{"t":2920,"g":1.58},{"t":2924,"g":1.54},{"t":2928,"g":1.5},{"t":2932,"g":1.56},{"t":2936,"g":1.5},{"t":2940,"g":1.54},{"t":2944,"g":1.48},{"t":2948,"g":1.52},{"t":2952,"g":1.46},{"t":2956,"g":1.5},{"t":2960,"g":1.44},{"t":2964,"g":1.4},{"t":2968,"g":1.36},{"t":2972,"g":1.32},{"t":2976,"g":1.38},{"t":2980,"g":1.42},{"t":2984,"g":1.38},{"t":2988,"g":1.45},{"t":2992,"g":1.42},{"t":2996,"g":1.48},{"t":3000,"g":1.5}],
"ph":[{"i":1,"g":1.62,"v":1.62},{"i":2,"g":1.55,"v":1.58},{"i":3,"g":1.5,"v":1.55},{"i":4,"g":1.45,"v":1.5},{"i":5,"g":1.4,"v":1.46},{"i":6,"g":1.35,"v":1.4},{"i":7,"g":1.3,"v":1.33},{"i":8,"g":1.27,"v":1.28},{"i":9,"g":1.3,"v":1.25},{"i":10,"g":1.36,"v":1.32},{"i":11,"g":1.42,"v":1.38},{"i":12,"g":1.48,"v":1.44},{"i":13,"g":1.54,"v":1.5},{"i":14,"g":1.6,"v":1.55},{"i":15,"g":1.63,"v":1.6},{"i":16,"g":1.6,"v":1.66},{"i":17,"g":1.54,"v":1.62},{"i":18,"g":1.48,"v":1.56},{"i":19,"g":1.42,"v":1.52},{"i":20,"g":1.36,"v":1.45},{"i":21,"g":1.31,"v":1.38},{"i":22,"g":1.28,"v":1.34},{"i":23,"g":1.33,"v":1.3},{"i":24,"g":1.39,"v":1.35},{"i":25,"g":1.45,"v":1.42},{"i":26,"g":1.52,"v":1.47},{"i":27,"g":1.58,"v":1.52},{"i":28,"g":1.62,"v":1.56},
{"i":29,"g":1.61,"v":0.66},{"i":30,"g":1.59,"v":1.2},{"i":31,"g":1.58,"v":0.65},{"i":32,"g":1.57,"v":1.15},{"i":33,"g":1.555,"v":0.64},{"i":34,"g":1.545,"v":1.25},{"i":35,"g":1.53,"v":0.62},{"i":36,"g":1.52,"v":1.1},{"i":37,"g":1.505,"v":0.63},{"i":38,"g":1.495,"v":1.2},{"i":39,"g":1.48,"v":0.6},{"i":40,"g":1.47,"v":1.15},{"i":41,"g":1.455,"v":0.61},{"i":42,"g":1.445,"v":1.25},{"i":43,"g":1.43,"v":0.6},{"i":44,"g":1.42,"v":1.2},{"i":45,"g":1.405,"v":0.58},{"i":46,"g":1.395,"v":1.22},{"i":47,"g":1.38,"v":0.59},{"i":48,"g":1.37,"v":1.15},{"i":49,"g":1.355,"v":0.57},{"i":50,"g":1.345,"v":1.25},{"i":51,"g":1.33,"v":0.56},{"i":52,"g":1.32,"v":1.18},{"i":53,"g":1.305,"v":0.56},{"i":54,"g":1.295,"v":1.3},{"i":55,"g":1.28,"v":0.55},{"i":56,"g":1.27,"v":1.2},{"i":57,"g":1.255,"v":0.54},{"i":58,"g":1.245,"v":1.28},{"i":59,"g":1.23,"v":0.53},{"i":60,"g":1.22,"v":1.3},{"i":61,"g":1.205,"v":0.52},{"i":62,"g":1.195,"v":1.22},{"i":63,"g":1.18,"v":0.5},{"i":64,"g":1.17,"v":1.35},{"i":65,"g":1.155,"v":0.52},{"i":66,"g":1.145,"v":1.25},{"i":67,"g":1.13,"v":0.55},{"i":68,"g":1.12,"v":1.3},{"i":69,"g":1.105,"v":0.48},{"i":70,"g":1.09,"v":0.6},
{"i":71,"g":1.08,"v":0.46},{"i":72,"g":1.06,"v":0.55},{"i":73,"g":1.04,"v":0.8},{"i":74,"g":1.03,"v":1.1},{"i":75,"g":1.035,"v":1.4},{"i":76,"g":1.05,"v":1.65},{"i":77,"g":1.08,"v":1.78},{"i":78,"g":1.12,"v":1.85},{"i":79,"g":1.18,"v":1.88},{"i":80,"g":1.24,"v":1.92},{"i":81,"g":1.3,"v":1.98},{"i":82,"g":1.36,"v":2.02},{"i":83,"g":1.42,"v":2.1},{"i":84,"g":1.48,"v":2.2},{"i":85,"g":1.52,"v":2.3},{"i":86,"g":1.56,"v":2.38},{"i":87,"g":1.6,"v":2.45},{"i":88,"g":1.55,"v":2.2},{"i":89,"g":1.5,"v":2.3},{"i":90,"g":1.45,"v":2.05},{"i":91,"g":1.4,"v":2.15},{"i":92,"g":1.35,"v":1.95},{"i":93,"g":1.3,"v":2.05},{"i":94,"g":1.25,"v":1.9},{"i":95,"g":1.2,"v":1.97},{"i":96,"g":1.15,"v":1.82},{"i":97,"g":1.1,"v":1.9},{"i":98,"g":1.06,"v":1.75},{"i":99,"g":1.05,"v":1.5},{"i":100,"g":1.07,"v":1.2},{"i":101,"g":1.06,"v":0.9},{"i":102,"g":1.09,"v":0.6},{"i":103,"g":1.1,"v":0.5},{"i":104,"g":1.15,"v":0.48},{"i":105,"g":1.2,"v":0.52},{"i":106,"g":1.14,"v":0.7},{"i":107,"g":1.12,"v":1.0},{"i":108,"g":1.1,"v":1.3},{"i":109,"g":1.12,"v":1.6},{"i":110,"g":1.16,"v":1.75},{"i":111,"g":1.22,"v":1.8},{"i":112,"g":1.18,"v":1.5},{"i":113,"g":1.2,"v":1.2},{"i":114,"g":1.17,"v":0.9},{"i":115,"g":1.2,"v":0.7},{"i":116,"g":1.24,"v":1.0},{"i":117,"g":1.22,"v":1.4},{"i":118,"g":1.26,"v":1.7},{"i":119,"g":1.3,"v":1.85},{"i":120,"g":1.34,"v":1.9},{"i":121,"g":1.38,"v":1.95},{"i":122,"g":1.42,"v":2.0},{"i":123,"g":1.44,"v":2.2},{"i":124,"g":1.46,"v":1.95},{"i":125,"g":1.48,"v":2.25},{"i":126,"g":1.5,"v":2.0},{"i":127,"g":1.52,"v":2.35},{"i":128,"g":1.54,"v":2.05},{"i":129,"g":1.56,"v":2.4},{"i":130,"g":1.58,"v":2.1},{"i":131,"g":1.6,"v":2.48},
{"i":132,"g":1.65,"v":2.62},{"i":133,"g":1.68,"v":2.5},{"i":134,"g":1.72,"v":2.72},{"i":135,"g":1.75,"v":2.6},{"i":136,"g":1.78,"v":2.8},{"i":137,"g":1.82,"v":2.7},{"i":138,"g":1.85,"v":2.92},{"i":139,"g":1.88,"v":2.8},{"i":140,"g":1.92,"v":3.05},{"i":141,"g":1.96,"v":2.95},{"i":142,"g":2.0,"v":3.15},{"i":143,"g":2.04,"v":3.05},{"i":144,"g":2.08,"v":3.28},{"i":145,"g":2.12,"v":3.2},{"i":146,"g":2.16,"v":3.45},{"i":147,"g":2.2,"v":3.35},{"i":148,"g":2.24,"v":3.5},{"i":149,"g":2.28,"v":3.6},
{"i":150,"g":2.3,"v":1.6},{"i":151,"g":2.31,"v":3.58},{"i":152,"g":2.32,"v":1.5},{"i":153,"g":2.335,"v":3.62},{"i":154,"g":2.345,"v":1.9},{"i":155,"g":2.36,"v":3.68},{"i":156,"g":2.37,"v":1.45},{"i":157,"g":2.385,"v":3.72},{"i":158,"g":2.395,"v":2.0},{"i":159,"g":2.41,"v":3.76},{"i":160,"g":2.42,"v":1.5},{"i":161,"g":2.435,"v":3.82},{"i":162,"g":2.445,"v":1.65},{"i":163,"g":2.46,"v":3.9},{"i":164,"g":2.47,"v":2.1},{"i":165,"g":2.485,"v":3.98},{"i":166,"g":2.495,"v":1.55},{"i":167,"g":2.51,"v":4.05},{"i":168,"g":2.52,"v":1.7},{"i":169,"g":2.535,"v":4.1},{"i":170,"g":2.545,"v":2.2},{"i":171,"g":2.56,"v":4.12},{"i":172,"g":2.57,"v":1.75},{"i":173,"g":2.585,"v":4.16},{"i":174,"g":2.595,"v":1.9},{"i":175,"g":2.61,"v":4.2},{"i":176,"g":2.62,"v":1.6},{"i":177,"g":2.635,"v":4.22},{"i":178,"g":2.645,"v":2.0},{"i":179,"g":2.66,"v":4.26},{"i":180,"g":2.67,"v":1.65},{"i":181,"g":2.685,"v":4.3},{"i":182,"g":2.695,"v":2.3},{"i":183,"g":2.71,"v":4.33},{"i":184,"g":2.72,"v":1.5},{"i":185,"g":2.735,"v":4.35},{"i":186,"g":2.745,"v":1.3},{"i":187,"g":2.76,"v":4.3},{"i":188,"g":2.77,"v":1.25},{"i":189,"g":2.78,"v":4.38},{"i":190,"g":2.79,"v":4.42},{"i":191,"g":2.81,"v":4.35},{"i":192,"g":2.83,"v":3.8},{"i":193,"g":2.845,"v":2.8},{"i":194,"g":2.845,"v":2.2},{"i":195,"g":2.835,"v":1.6},{"i":196,"g":2.82,"v":1.3},{"i":197,"g":2.83,"v":1.2},{"i":198,"g":2.8,"v":1.16},
{"i":199,"g":2.77,"v":1.2},{"i":200,"g":2.76,"v":1.5},{"i":201,"g":2.77,"v":2.2},{"i":202,"g":2.78,"v":3.2},{"i":203,"g":2.8,"v":4.0},{"i":204,"g":2.8,"v":4.4},{"i":205,"g":2.78,"v":3.8},{"i":206,"g":2.76,"v":3.0},{"i":207,"g":2.73,"v":2.0},{"i":208,"g":2.74,"v":1.4},{"i":209,"g":2.76,"v":1.25},{"i":210,"g":2.78,"v":1.3},{"i":211,"g":2.8,"v":1.5},{"i":212,"g":2.82,"v":2.3},{"i":213,"g":2.81,"v":3.5},{"i":214,"g":2.79,"v":4.3},{"i":215,"g":2.76,"v":4.35},{"i":216,"g":2.74,"v":3.5},{"i":217,"g":2.72,"v":2.3},{"i":218,"g":2.71,"v":1.5},{"i":219,"g":2.73,"v":1.2},{"i":220,"g":2.75,"v":1.1},
{"i":221,"g":2.6,"v":1.06},{"i":222,"g":2.45,"v":1.02},{"i":223,"g":2.3,"v":0.97},{"i":224,"g":2.15,"v":0.93},{"i":225,"g":2.0,"v":0.88},{"i":226,"g":1.85,"v":0.82},{"i":227,"g":1.7,"v":0.75},{"i":228,"g":1.6,"v":0.7},{"i":229,"g":1.7,"v":0.8},{"i":230,"g":1.85,"v":0.87},{"i":231,"g":2.0,"v":0.92},{"i":232,"g":2.15,"v":0.96},{"i":233,"g":2.3,"v":1.0},{"i":234,"g":2.45,"v":1.04},{"i":235,"g":2.6,"v":1.08},{"i":236,"g":2.72,"v":1.12},{"i":237,"g":2.6,"v":1.1},{"i":238,"g":2.45,"v":1.07},{"i":239,"g":2.3,"v":1.04},{"i":240,"g":2.15,"v":1.0},{"i":241,"g":2.0,"v":0.97},
{"i":242,"g":2.25,"v":3.52},{"i":243,"g":2.255,"v":1.05},{"i":244,"g":2.26,"v":3.55},{"i":245,"g":2.265,"v":1.3},{"i":246,"g":2.27,"v":3.56},{"i":247,"g":2.275,"v":1.02},{"i":248,"g":2.285,"v":3.6},{"i":249,"g":2.29,"v":1.2},{"i":250,"g":2.3,"v":3.58},{"i":251,"g":2.305,"v":1.05},{"i":252,"g":2.315,"v":3.6},{"i":253,"g":2.325,"v":1.75},{"i":254,"g":2.34,"v":3.64},{"i":255,"g":2.35,"v":1.35},{"i":256,"g":2.365,"v":3.7},{"i":257,"g":2.375,"v":1.8},{"i":258,"g":2.39,"v":3.74},{"i":259,"g":2.4,"v":1.6},{"i":260,"g":2.415,"v":3.78},{"i":261,"g":2.425,"v":1.9},{"i":262,"g":2.44,"v":3.85},{"i":263,"g":2.45,"v":1.45},{"i":264,"g":2.465,"v":3.92},{"i":265,"g":2.475,"v":1.8},{"i":266,"g":2.49,"v":4.0},{"i":267,"g":2.5,"v":1.6},{"i":268,"g":2.515,"v":4.06},{"i":269,"g":2.525,"v":2.0},{"i":270,"g":2.54,"v":4.1},{"i":271,"g":2.55,"v":1.65},{"i":272,"g":2.565,"v":4.14},{"i":273,"g":2.575,"v":2.1},{"i":274,"g":2.59,"v":4.18},{"i":275,"g":2.6,"v":1.55},{"i":276,"g":2.615,"v":4.2},{"i":277,"g":2.625,"v":1.85},{"i":278,"g":2.64,"v":4.24},{"i":279,"g":2.65,"v":1.6},{"i":280,"g":2.665,"v":4.28},{"i":281,"g":2.675,"v":2.0},{"i":282,"g":2.69,"v":4.3},{"i":283,"g":2.7,"v":1.45},{"i":284,"g":2.715,"v":4.34},{"i":285,"g":2.725,"v":1.35},{"i":286,"g":2.74,"v":4.3}],
"ph2":[{"i":1,"g":1.6,"v":1.0},{"i":2,"g":1.59,"v":0.68},{"i":3,"g":1.585,"v":1.3},{"i":4,"g":1.565,"v":0.66},{"i":5,"g":1.56,"v":1.05},{"i":6,"g":1.54,"v":0.63},{"i":7,"g":1.535,"v":1.3},{"i":8,"g":1.515,"v":0.64},{"i":9,"g":1.51,"v":1.0},{"i":10,"g":1.49,"v":0.62},{"i":11,"g":1.485,"v":1.28},{"i":12,"g":1.465,"v":0.6},{"i":13,"g":1.46,"v":1.05},{"i":14,"g":1.44,"v":0.6},{"i":15,"g":1.435,"v":1.3},{"i":16,"g":1.415,"v":0.58},{"i":17,"g":1.41,"v":1.0},{"i":18,"g":1.39,"v":0.58},{"i":19,"g":1.385,"v":1.3},{"i":20,"g":1.365,"v":0.57},{"i":21,"g":1.36,"v":1.0},{"i":22,"g":1.34,"v":0.56},{"i":23,"g":1.335,"v":1.35},{"i":24,"g":1.315,"v":0.55},{"i":25,"g":1.31,"v":1.05},{"i":26,"g":1.29,"v":0.55},{"i":27,"g":1.285,"v":1.4},{"i":28,"g":1.265,"v":0.53},{"i":29,"g":1.26,"v":1.0},{"i":30,"g":1.24,"v":0.52},{"i":31,"g":1.235,"v":1.45},{"i":32,"g":1.215,"v":0.52},{"i":33,"g":1.21,"v":1.0},{"i":34,"g":1.19,"v":0.5},{"i":35,"g":1.185,"v":1.5},{"i":36,"g":1.165,"v":0.5},{"i":37,"g":1.16,"v":1.1},{"i":38,"g":1.14,"v":0.5},{"i":39,"g":1.135,"v":1.55},{"i":40,"g":1.115,"v":0.52},{"i":41,"g":1.11,"v":1.2},{"i":42,"g":1.09,"v":0.55},{"i":43,"g":1.085,"v":1.6},{"i":44,"g":1.07,"v":0.7},{"i":45,"g":1.06,"v":1.3},{"i":46,"g":1.045,"v":1.7},{"i":47,"g":1.1,"v":1.95},{"i":48,"g":1.2,"v":2.0},{"i":49,"g":1.3,"v":2.08},{"i":50,"g":1.35,"v":2.2},{"i":51,"g":1.38,"v":2.05},{"i":52,"g":1.42,"v":2.3},{"i":53,"g":1.45,"v":2.1},{"i":54,"g":1.5,"v":2.4},{"i":55,"g":1.52,"v":2.15},{"i":56,"g":1.55,"v":2.45},{"i":57,"g":1.58,"v":2.2},{"i":58,"g":1.6,"v":2.5},{"i":59,"g":1.62,"v":0.72},{"i":60,"g":1.8,"v":0.8},{"i":61,"g":2.0,"v":0.86},{"i":62,"g":2.2,"v":0.92},{"i":63,"g":2.4,"v":0.98},{"i":64,"g":2.6,"v":1.03},{"i":65,"g":2.75,"v":1.08},{"i":66,"g":2.78,"v":1.15},{"i":67,"g":2.6,"v":1.12},{"i":68,"g":2.4,"v":1.06},{"i":69,"g":2.2,"v":1.02},{"i":70,"g":2.0,"v":0.99},{"i":71,"g":1.8,"v":0.9},{"i":72,"g":1.62,"v":0.78}],
"pb":[{"seg":"A","g":1.6,"hi":2.5,"lo":0.68},{"seg":"A","g":1.65,"hi":2.6,"lo":0.71},{"seg":"A","g":1.7,"hi":2.68,"lo":0.74},{"seg":"A","g":1.75,"hi":2.76,"lo":0.77},{"seg":"A","g":1.8,"hi":2.84,"lo":0.79},{"seg":"A","g":1.85,"hi":2.9,"lo":0.82},{"seg":"A","g":1.9,"hi":2.98,"lo":0.84},{"seg":"A","g":1.95,"hi":3.04,"lo":0.86},{"seg":"A","g":2.0,"hi":3.1,"lo":0.88},{"seg":"A","g":2.05,"hi":3.18,"lo":0.9},{"seg":"A","g":2.1,"hi":3.26,"lo":0.92},{"seg":"A","g":2.15,"hi":3.38,"lo":0.94},{"seg":"A","g":2.2,"hi":3.44,"lo":0.95},{"seg":"A","g":2.25,"hi":3.5,"lo":0.97},
{"seg":"B","g":2.25,"hi":3.52,"lo":2.0},{"seg":"B","g":2.3,"hi":3.58,"lo":2.1},{"seg":"B","g":2.35,"hi":3.64,"lo":2.2},{"seg":"B","g":2.4,"hi":3.7,"lo":2.3},{"seg":"B","g":2.45,"hi":3.8,"lo":2.4},{"seg":"B","g":2.5,"hi":3.95,"lo":2.5},{"seg":"B","g":2.55,"hi":4.05,"lo":2.6},{"seg":"B","g":2.6,"hi":4.13,"lo":2.7},{"seg":"B","g":2.65,"hi":4.18,"lo":2.85},{"seg":"B","g":2.7,"hi":4.22,"lo":3.05},{"seg":"B","g":2.74,"hi":4.25,"lo":3.35}],
"el":[{"i":0,"g":1.758,"v":1.524},{"i":1,"g":1.749,"v":1.632},{"i":2,"g":1.723,"v":1.733},{"i":3,"g":1.682,"v":1.819},{"i":4,"g":1.629,"v":1.885},{"i":5,"g":1.567,"v":1.927},{"i":6,"g":1.5,"v":1.941},{"i":7,"g":1.433,"v":1.927},{"i":8,"g":1.371,"v":1.885},{"i":9,"g":1.318,"v":1.819},{"i":10,"g":1.277,"v":1.733},{"i":11,"g":1.251,"v":1.632},{"i":12,"g":1.242,"v":1.524},{"i":13,"g":1.251,"v":1.416},{"i":14,"g":1.277,"v":1.315},{"i":15,"g":1.318,"v":1.229},{"i":16,"g":1.371,"v":1.163},{"i":17,"g":1.433,"v":1.121},{"i":18,"g":1.5,"v":1.107},{"i":19,"g":1.567,"v":1.121},{"i":20,"g":1.629,"v":1.163},{"i":21,"g":1.682,"v":1.229},{"i":22,"g":1.723,"v":1.315},{"i":23,"g":1.749,"v":1.416},{"i":24,"g":1.758,"v":1.524}]
},
"bounds":"flush","spacing":82,
"vconcat":[
{"width":484,"height":375,
"resolve":{"axis":{"x":"independent","y":"independent"}},
"layer":[
{"data":{"name":"b1"},"mark":{"type":"area","color":"#0000ff","opacity":1,"orient":"vertical"},
"encoding":{"x":{"field":"t","type":"quantitative","scale":{"domain":[0,3000],"nice":false,"zero":false},"axis":{"orient":"bottom","values":[0,500,1000,1500,2000,2500,3000],"format":"d","title":"TIME / 20 ms","titleFontSize":23,"labelPadding":13.5,"titlePadding":1}},
"y":{"field":"hi","type":"quantitative","scale":{"domain":[0,5],"nice":false,"zero":false},"axis":{"orient":"left","values":[0,1,2,3,4,5],"format":"~g","title":"PERCEPTION STATE\u00a0\u00a0\u00a0\u00a0v","titleFontSize":23,"labelPadding":9.4,"titlePadding":7.5}},
"y2":{"field":"lo"},"detail":{"field":"seg","type":"nominal"}}},
{"data":{"name":"l1"},"mark":{"type":"line","color":"#0000ff","strokeWidth":1,"strokeJoin":"round"},"encoding":{"x":{"field":"t","type":"quantitative","axis":null},"y":{"field":"v","type":"quantitative","axis":null}}},
{"data":{"values":[{"x0":40,"x1":337,"y0":4.4,"y1":4.88},{"x0":930,"x1":1769,"y0":4.37,"y1":4.93},{"x0":2589,"x1":2880,"y0":4.42,"y1":4.92}]},"mark":{"type":"rect","fill":"white","fillOpacity":0,"stroke":"#222222","strokeWidth":1},
"encoding":{"x":{"field":"x0","type":"quantitative","axis":{"orient":"top","values":[0,500,1000,1500,2000,2500,3000],"labels":false,"title":null}},"x2":{"field":"x1"},"y":{"field":"y0","type":"quantitative","axis":{"orient":"right","values":[0,1,2,3,4,5],"labels":false,"title":null}},"y2":{"field":"y1"}}},
{"data":{"values":[{"x":172,"y":4.613,"s":"off"},{"x":1344,"y":4.65,"s":"stimulus on"},{"x":2719,"y":4.627,"s":"off"}]},"mark":{"type":"text","fontSize":23,"font":"Liberation Sans","align":"center","baseline":"middle","color":"black"},
"encoding":{"x":{"field":"x","type":"quantitative","axis":null},"y":{"field":"y","type":"quantitative","axis":null},"text":{"field":"s"}}},
{"data":{"values":[{"x0":25,"y0":3.453,"x1":205,"y1":3.453},{"x0":2463,"y0":3.457,"x1":2955,"y1":3.429}]},"mark":{"type":"rule","color":"black","strokeWidth":1},
"encoding":{"x":{"field":"x0","type":"quantitative","axis":null},"y":{"field":"y0","type":"quantitative","axis":null},"x2":{"field":"x1"},"y2":{"field":"y1"}}},
{"data":{"values":[{"x":236,"y":3.453}]},"mark":{"type":"point","shape":"M0,0L-1,-0.32L-0.7,0L-1,0.32Z","filled":true,"size":784,"angle":0,"color":"black","opacity":1,"strokeWidth":0},
"encoding":{"x":{"field":"x","type":"quantitative","axis":null},"y":{"field":"y","type":"quantitative","axis":null}}},
{"data":{"values":[{"x":2986,"y":3.427}]},"mark":{"type":"point","shape":"M0,0L-1,-0.32L-0.7,0L-1,0.32Z","filled":true,"size":784,"angle":1.6,"color":"black","opacity":1,"strokeWidth":0},
"encoding":{"x":{"field":"x","type":"quantitative","axis":null},"y":{"field":"y","type":"quantitative","axis":null}}}
]},
{"width":489,"height":379,
"resolve":{"axis":{"x":"independent","y":"independent"}},
"layer":[
{"data":{"name":"g2"},"mark":{"type":"line","color":"#0000ff","strokeWidth":1.1,"strokeJoin":"round"},
"encoding":{"x":{"field":"t","type":"quantitative","scale":{"domain":[0,3000],"nice":false,"zero":false},"axis":{"orient":"bottom","values":[0,500,1000,1500,2000,2500,3000],"format":"d","title":null,"labelPadding":13}},
"y":{"field":"g","type":"quantitative","scale":{"domain":[0.5,3],"nice":false,"zero":false},"axis":{"orient":"left","values":[0.5,1,1.5,2,2.5,3],"format":"~g","title":"ATTENTION PARAMETER\u00a0\u00a0G","titleFontSize":20.5,"labelPadding":10.5,"titlePadding":9}}}},
{"data":{"values":[{"x0":31,"x1":328,"y0":0.607,"y1":0.887},{"x0":1119,"x1":2039,"y0":0.603,"y1":0.883},{"x0":2653,"x1":2949,"y0":0.608,"y1":0.897}]},"mark":{"type":"rect","fill":"white","fillOpacity":0,"stroke":"#222222","strokeWidth":1},
"encoding":{"x":{"field":"x0","type":"quantitative","axis":{"orient":"top","values":[0,500,1000,1500,2000,2500,3000],"labels":false,"title":null}},"x2":{"field":"x1"},"y":{"field":"y0","type":"quantitative","axis":{"orient":"right","values":[0.5,1,1.5,2,2.5,3],"labels":false,"title":null}},"y2":{"field":"y1"}}},
{"data":{"values":[{"x":162,"y":0.754,"s":"off"},{"x":1536,"y":0.743,"s":"stimulus on"},{"x":2782,"y":0.748,"s":"off"}]},"mark":{"type":"text","fontSize":23,"font":"Liberation Sans","align":"center","baseline":"middle","color":"black"},
"encoding":{"x":{"field":"x","type":"quantitative","axis":null},"y":{"field":"y","type":"quantitative","axis":null},"text":{"field":"s"}}}
]},
{"width":496,"height":386,
"resolve":{"axis":{"x":"independent","y":"independent"}},
"layer":[
{"data":{"name":"pb"},"mark":{"type":"area","color":"#0000ff","opacity":1,"orient":"vertical"},
"encoding":{"x":{"field":"g","type":"quantitative","scale":{"domain":[1,3],"nice":false,"zero":false},"axis":{"orient":"bottom","values":[1,1.5,2,2.5,3],"format":"~g","title":"ATTENTION PARAMETER\u00a0\u00a0G","titleFontSize":24,"labelPadding":14,"titlePadding":2}},
"y":{"field":"hi","type":"quantitative","scale":{"domain":[0,5],"nice":false,"zero":false},"axis":{"orient":"left","values":[0,1,2,3,4,5],"format":"~g","title":"PERCEPTION STATE\u00a0\u00a0v","titleFontSize":24,"labelPadding":11,"titlePadding":6}},
"y2":{"field":"lo"},"detail":{"field":"seg","type":"nominal"}}},
{"data":{"name":"ph"},"mark":{"type":"line","color":"#0000ff","strokeWidth":0.9,"strokeJoin":"round"},
"encoding":{"x":{"field":"g","type":"quantitative","axis":null},"y":{"field":"v","type":"quantitative","axis":null},"order":{"field":"i","type":"quantitative"}}},
{"data":{"name":"ph2"},"mark":{"type":"line","color":"#0000ff","strokeWidth":0.9,"strokeJoin":"round"},
"encoding":{"x":{"field":"g","type":"quantitative","axis":null},"y":{"field":"v","type":"quantitative","axis":null},"order":{"field":"i","type":"quantitative"}}},
{"data":{"values":[{"x0":1.698,"x1":2.307,"y0":4.2,"y1":4.695},{"x0":1.066,"x1":1.27,"y0":3.56,"y1":4.12}]},"mark":{"type":"rect","fill":"white","fillOpacity":0,"stroke":"#222222","strokeWidth":1},
"encoding":{"x":{"field":"x0","type":"quantitative","axis":{"orient":"top","values":[1,1.5,2,2.5,3],"labels":false,"title":null}},"x2":{"field":"x1"},"y":{"field":"y0","type":"quantitative","axis":{"orient":"right","values":[0,1,2,3,4,5],"labels":false,"title":null}},"y2":{"field":"y1"}}},
{"data":{"values":[{"x":1.982,"y":4.42,"s":"stimulus on"},{"x":1.152,"y":3.85,"s":"off"}]},"mark":{"type":"text","fontSize":23,"font":"Liberation Sans","align":"center","baseline":"middle","color":"black"},
"encoding":{"x":{"field":"x","type":"quantitative","axis":null},"y":{"field":"y","type":"quantitative","axis":null},"text":{"field":"s"}}},
{"data":{"values":[{"x0":1.187,"y0":3.52,"x1":1.309,"y1":1.834}]},"mark":{"type":"rule","color":"black","strokeWidth":1},
"encoding":{"x":{"field":"x0","type":"quantitative","axis":null},"y":{"field":"y0","type":"quantitative","axis":null},"x2":{"field":"x1"},"y2":{"field":"y1"}}},
{"data":{"values":[{"x0":2.482,"y0":4.363,"x1":1.349,"y1":2.785},{"x0":1.363,"y0":0.278,"x1":2.404,"y1":0.706}]},"mark":{"type":"rule","color":"black","strokeWidth":3},
"encoding":{"x":{"field":"x0","type":"quantitative","axis":null},"y":{"field":"y0","type":"quantitative","axis":null},"x2":{"field":"x1"},"y2":{"field":"y1"}}},
{"data":{"values":[{"x":1.312,"y":2.733}]},"mark":{"type":"point","shape":"M0,0L-1,-0.4L-0.75,0L-1,0.4Z","filled":true,"size":900,"angle":156.6,"color":"black","opacity":1,"strokeWidth":0},
"encoding":{"x":{"field":"x","type":"quantitative","axis":null},"y":{"field":"y","type":"quantitative","axis":null}}},
{"data":{"values":[{"x":2.444,"y":0.722}]},"mark":{"type":"point","shape":"M0,0L-1,-0.4L-0.75,0L-1,0.4Z","filled":true,"size":900,"angle":352.7,"color":"black","opacity":1,"strokeWidth":0},
"encoding":{"x":{"field":"x","type":"quantitative","axis":null},"y":{"field":"y","type":"quantitative","axis":null}}},
{"data":{"name":"el"},"mark":{"type":"line","color":"black","strokeWidth":3},
"encoding":{"x":{"field":"g","type":"quantitative","axis":null},"y":{"field":"v","type":"quantitative","axis":null},"order":{"field":"i","type":"quantitative"}}}
]}
]
}
